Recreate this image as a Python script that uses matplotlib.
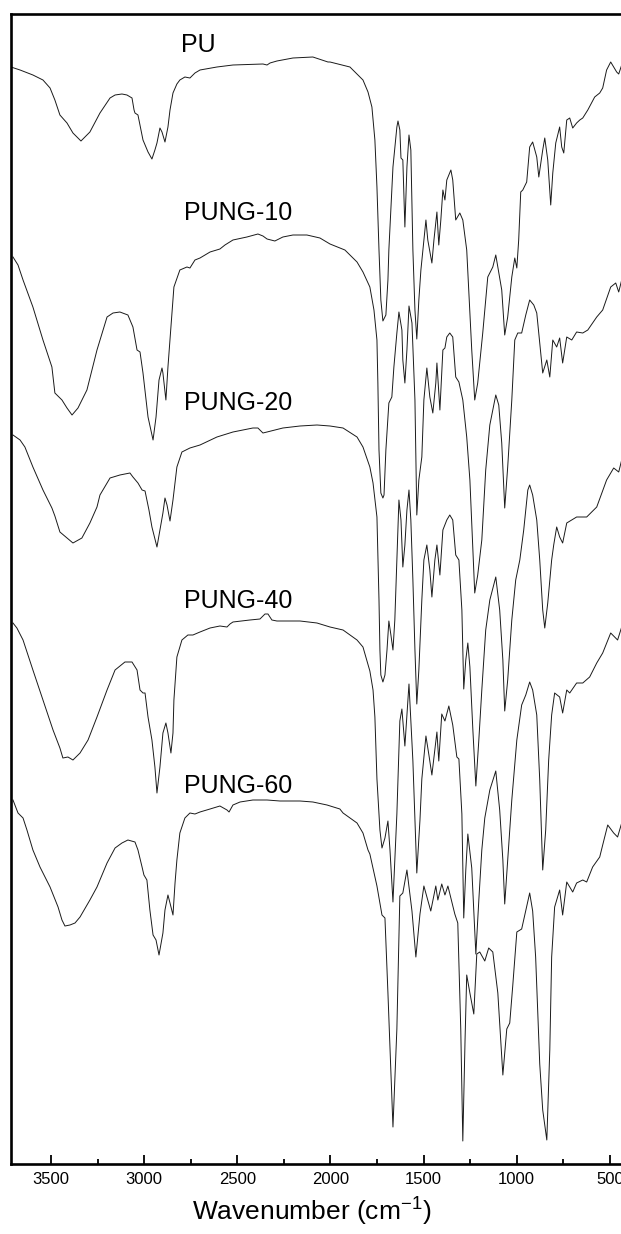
import numpy as np
import matplotlib
matplotlib.use("Agg")
import matplotlib.pyplot as plt
from matplotlib.ticker import MultipleLocator

plt.rcParams['font.family'] = ['Liberation Sans', 'DejaVu Sans']
plt.rcParams['mathtext.default'] = 'regular'

# FTIR spectra, transmittance in arbitrary units (curves already offset)
pu_wn = [3715, 3666, 3597, 3543, 3505, 3479, 3452, 3414, 3382, 3339, 3291, 3237,
         3183, 3156, 3119, 3092, 3065, 3054, 3049, 3033, 3006, 2979, 2958, 2942,
         2931, 2915, 2904, 2888, 2872, 2861, 2845, 2824, 2808, 2781, 2754, 2727,
         2700, 2609, 2523, 2362, 2340, 2324, 2287, 2201, 2094, 2013, 2002, 1895,
         1825, 1798, 1777, 1761, 1750, 1739, 1729, 1718, 1702, 1691, 1686, 1664,
         1643, 1637, 1627, 1621, 1611, 1600, 1589, 1578, 1568, 1557, 1546, 1536,
         1525, 1514, 1503, 1487, 1477, 1455, 1444, 1428, 1418, 1407, 1396, 1385,
         1375, 1353, 1343, 1327, 1305, 1289, 1268, 1241, 1225, 1209, 1182, 1155,
         1128, 1112, 1101, 1080, 1064, 1048, 1026, 1010, 999, 989, 978, 967,
         946, 930, 914, 892, 881, 860, 849, 833, 817, 806, 790, 769,
         758, 747, 731, 715, 699, 678, 661, 645, 618, 581, 554, 538,
         517, 495, 479, 463, 452, 436]
pu_t = [1097, 1094, 1089, 1084, 1076, 1064, 1049, 1041, 1031, 1023, 1032, 1051,
        1066, 1069, 1070, 1069, 1066, 1054, 1051, 1049, 1024, 1012, 1005, 1014,
        1021, 1036, 1032, 1022, 1037, 1054, 1071, 1080, 1084, 1087, 1086, 1091,
        1094, 1097, 1099, 1100, 1099, 1101, 1103, 1106, 1107, 1102, 1102, 1097,
        1084, 1072, 1057, 1024, 977, 914, 864, 843, 849, 884, 914, 997,
        1037, 1043, 1034, 1006, 1004, 937, 997, 1029, 1014, 914, 854, 825,
        864, 894, 914, 944, 924, 901, 924, 952, 919, 944, 974, 964,
        984, 994, 984, 944, 951, 944, 914, 814, 764, 781, 831, 887,
        897, 909, 897, 874, 829, 847, 887, 906, 896, 924, 972, 974,
        982, 1017, 1022, 1007, 987, 1014, 1026, 1004, 959, 991, 1021, 1037,
        1017, 1011, 1044, 1046, 1036, 1041, 1044, 1046, 1054, 1067, 1071, 1076,
        1094, 1102, 1097, 1092, 1090, 1099]

pung10_wn = [3704, 3677, 3650, 3597, 3543, 3495, 3479, 3441, 3414, 3387, 3355, 3307,
             3253, 3199, 3167, 3130, 3087, 3060, 3038, 3022, 3006, 2979, 2952, 2936,
             2920, 2904, 2899, 2883, 2872, 2856, 2840, 2808, 2770, 2754, 2727, 2700,
             2646, 2593, 2566, 2523, 2448, 2389, 2362, 2340, 2298, 2255, 2201, 2126,
             2056, 2002, 1922, 1857, 1825, 1788, 1766, 1750, 1745, 1739, 1729, 1718,
             1712, 1702, 1686, 1670, 1659, 1643, 1632, 1616, 1611, 1600, 1589, 1578,
             1562, 1546, 1536, 1525, 1509, 1498, 1482, 1466, 1450, 1434, 1428, 1412,
             1396, 1385, 1375, 1359, 1343, 1327, 1310, 1289, 1268, 1251, 1235, 1225,
             1209, 1187, 1166, 1144, 1112, 1096, 1080, 1064, 1048, 1026, 1010, 994,
             973, 951, 930, 908, 892, 876, 860, 838, 822, 806, 785, 769,
             753, 731, 704, 678, 645, 618, 570, 538, 495, 468, 452, 436]
pung10_t = [907, 899, 884, 857, 824, 797, 771, 764, 756, 749, 756, 774,
            814, 847, 851, 852, 849, 837, 814, 812, 791, 747, 724, 747,
            784, 796, 791, 764, 797, 837, 877, 894, 897, 896, 904, 906,
            912, 915, 919, 924, 927, 930, 928, 925, 923, 927, 929, 929,
            926, 920, 914, 902, 892, 877, 854, 824, 781, 714, 671, 666,
            669, 714, 761, 767, 797, 831, 852, 834, 804, 781, 814, 858,
            841, 764, 649, 684, 707, 764, 796, 767, 751, 781, 801, 754,
            814, 816, 827, 831, 827, 787, 782, 764, 727, 684, 614, 571,
            589, 624, 694, 739, 769, 759, 721, 656, 697, 764, 824, 831,
            831, 849, 864, 859, 851, 821, 791, 804, 787, 824, 817, 826,
            801, 827, 824, 832, 831, 834, 847, 854, 877, 881, 872, 884]

pung20_wn = [3704, 3666, 3640, 3597, 3543, 3495, 3479, 3452, 3414, 3382, 3334, 3291,
             3253, 3237, 3183, 3130, 3076, 3060, 3033, 3011, 2995, 2974, 2958, 2931,
             2915, 2899, 2888, 2877, 2861, 2845, 2824, 2797, 2754, 2700, 2609, 2523,
             2416, 2389, 2362, 2340, 2255, 2163, 2072, 2002, 1932, 1857, 1825, 1788,
             1771, 1750, 1739, 1734, 1729, 1718, 1707, 1696, 1686, 1675, 1664, 1654,
             1643, 1632, 1621, 1611, 1600, 1589, 1578, 1568, 1557, 1546, 1536, 1525,
             1509, 1498, 1482, 1466, 1455, 1439, 1428, 1412, 1396, 1375, 1359, 1343,
             1327, 1310, 1294, 1284, 1273, 1262, 1251, 1235, 1219, 1203, 1187, 1166,
             1144, 1112, 1091, 1074, 1064, 1048, 1026, 1005, 983, 962, 940, 930,
             914, 892, 876, 860, 849, 833, 822, 812, 801, 785, 769, 753,
             731, 704, 678, 624, 570, 517, 479, 452, 436]
pung20_t = [729, 724, 717, 697, 674, 656, 648, 632, 626, 621, 626, 641,
            657, 669, 686, 689, 691, 687, 681, 674, 673, 654, 637, 617,
            634, 651, 666, 659, 643, 664, 697, 712, 716, 719, 727, 732,
            736, 736, 731, 732, 736, 738, 739, 738, 736, 727, 717, 697,
            681, 647, 564, 514, 489, 482, 489, 514, 543, 529, 514, 544,
            604, 664, 644, 597, 619, 654, 674, 644, 584, 514, 460, 494,
            564, 604, 619, 594, 567, 604, 619, 589, 634, 644, 649, 644,
            609, 604, 554, 475, 504, 521, 497, 434, 378, 424, 474, 534,
            564, 587, 554, 504, 453, 484, 544, 584, 604, 634, 674, 679,
            669, 644, 604, 554, 536, 561, 584, 604, 619, 637, 627, 621,
            641, 644, 647, 647, 657, 684, 696, 692, 704]

pung40_wn = [3704, 3683, 3650, 3597, 3543, 3489, 3452, 3436, 3409, 3382, 3344, 3301,
             3253, 3199, 3156, 3103, 3065, 3038, 3022, 3006, 2995, 2979, 2958, 2942,
             2931, 2915, 2899, 2883, 2872, 2856, 2845, 2840, 2824, 2797, 2765, 2738,
             2700, 2646, 2593, 2555, 2539, 2523, 2432, 2378, 2351, 2335, 2314, 2287,
             2163, 2072, 2002, 1932, 1857, 1825, 1788, 1771, 1761, 1750, 1734, 1723,
             1707, 1691, 1680, 1664, 1654, 1643, 1627, 1616, 1600, 1578, 1568, 1557,
             1546, 1536, 1519, 1509, 1487, 1471, 1455, 1439, 1428, 1418, 1402, 1385,
             1364, 1343, 1321, 1310, 1294, 1284, 1273, 1262, 1241, 1219, 1203, 1187,
             1171, 1144, 1112, 1091, 1074, 1064, 1048, 1026, 999, 973, 951, 930,
             914, 892, 876, 860, 844, 828, 812, 796, 769, 753, 731, 715,
             678, 645, 608, 570, 538, 495, 468, 458, 436]
pung40_t = [541, 536, 524, 494, 464, 434, 416, 406, 407, 404, 411, 424,
            447, 474, 494, 502, 502, 494, 474, 471, 471, 447, 424, 397,
            371, 397, 431, 441, 431, 411, 431, 464, 507, 524, 529, 529,
            532, 536, 538, 537, 540, 542, 544, 545, 550, 550, 544, 543,
            543, 541, 537, 534, 524, 517, 493, 474, 447, 385, 334, 316,
            326, 343, 314, 262, 304, 350, 443, 455, 418, 480, 444, 403,
            344, 291, 344, 385, 428, 409, 389, 414, 432, 403, 450, 443,
            458, 439, 407, 405, 350, 246, 294, 330, 296, 210, 264, 314,
            346, 374, 393, 354, 304, 260, 304, 364, 424, 459, 469, 482,
            474, 449, 384, 294, 334, 404, 449, 471, 467, 451, 474, 471,
            481, 481, 487, 501, 511, 531, 526, 524, 537]

pung60_wn = [3704, 3677, 3650, 3629, 3597, 3559, 3505, 3462, 3441, 3425, 3398, 3371,
             3344, 3291, 3253, 3199, 3156, 3119, 3087, 3049, 3033, 3011, 3001, 2985,
             2969, 2952, 2936, 2920, 2899, 2888, 2872, 2861, 2845, 2834, 2824, 2808,
             2781, 2754, 2727, 2700, 2646, 2593, 2555, 2544, 2523, 2485, 2416, 2340,
             2271, 2163, 2094, 2018, 1949, 1932, 1857, 1825, 1798, 1788, 1750, 1723,
             1707, 1691, 1664, 1643, 1627, 1611, 1589, 1562, 1541, 1519, 1498, 1461,
             1434, 1423, 1402, 1385, 1369, 1332, 1316, 1300, 1289, 1277, 1268, 1251,
             1230, 1214, 1198, 1171, 1150, 1128, 1101, 1074, 1053, 1037, 1021, 999,
             973, 930, 914, 898, 876, 860, 838, 822, 812, 796, 769, 753,
             731, 699, 678, 645, 624, 592, 554, 538, 511, 479, 458, 436]
pung60_t = [364, 351, 346, 334, 314, 297, 277, 257, 244, 238, 239, 241,
            247, 264, 277, 301, 316, 321, 324, 322, 314, 297, 289, 284,
            254, 229, 224, 209, 231, 254, 269, 261, 249, 281, 304, 331,
            346, 351, 350, 352, 355, 358, 354, 352, 359, 362, 364, 364,
            363, 363, 362, 359, 355, 351, 341, 331, 314, 310, 278, 249,
            246, 171, 37, 135, 268, 271, 294, 253, 207, 250, 278, 253,
            278, 264, 280, 269, 278, 250, 241, 135, 23, 124, 189, 171,
            150, 210, 212, 203, 216, 212, 171, 89, 135, 141, 178, 232,
            235, 271, 253, 207, 100, 54, 24, 114, 207, 257, 274, 249,
            282, 272, 281, 284, 282, 297, 307, 319, 339, 331, 327, 341]

spectra = [
    ("PU", pu_wn, pu_t),
    ("PUNG-10", pung10_wn, pung10_t),
    ("PUNG-20", pung20_wn, pung20_t),
    ("PUNG-40", pung40_wn, pung40_t),
    ("PUNG-60", pung60_wn, pung60_t),
]

# where each sample name sits (wavenumber, baseline height)
label_pos = [(2802, 1112), (2786, 944), (2786, 754), (2786, 556), (2786, 371)]

fig = plt.figure(figsize=(6.21, 12.34), dpi=100)
ax = fig.add_axes([11.3 / 621, 70 / 1234, 617.1 / 621, 1150 / 1234])

for (name, wn, t), (lx, ly) in zip(spectra, label_pos):
    ax.plot(np.array(wn), np.array(t), color="#1a1a1a", linewidth=0.7)
    ax.text(lx, ly, name, fontsize=18, ha="left", va="baseline")

ax.set_xlim(3713, 400)
ax.set_ylim(0, 1150)

ax.xaxis.set_major_locator(MultipleLocator(500))
ax.xaxis.set_minor_locator(MultipleLocator(250))
ax.tick_params(axis="x", which="major", direction="in", length=6.5, width=1.3,
               labelsize=12, pad=5.5)
ax.tick_params(axis="x", which="minor", direction="in", length=3.5, width=1.3)
ax.set_yticks([])

for side in ["left", "top", "bottom", "right"]:
    ax.spines[side].set_linewidth(1.9)

ax.set_xlabel("Wavenumber (cm$^{-1}$)", fontsize=19)
ax.xaxis.set_label_coords(0.4865, -0.028)

fig.savefig("out.png", dpi=100)
